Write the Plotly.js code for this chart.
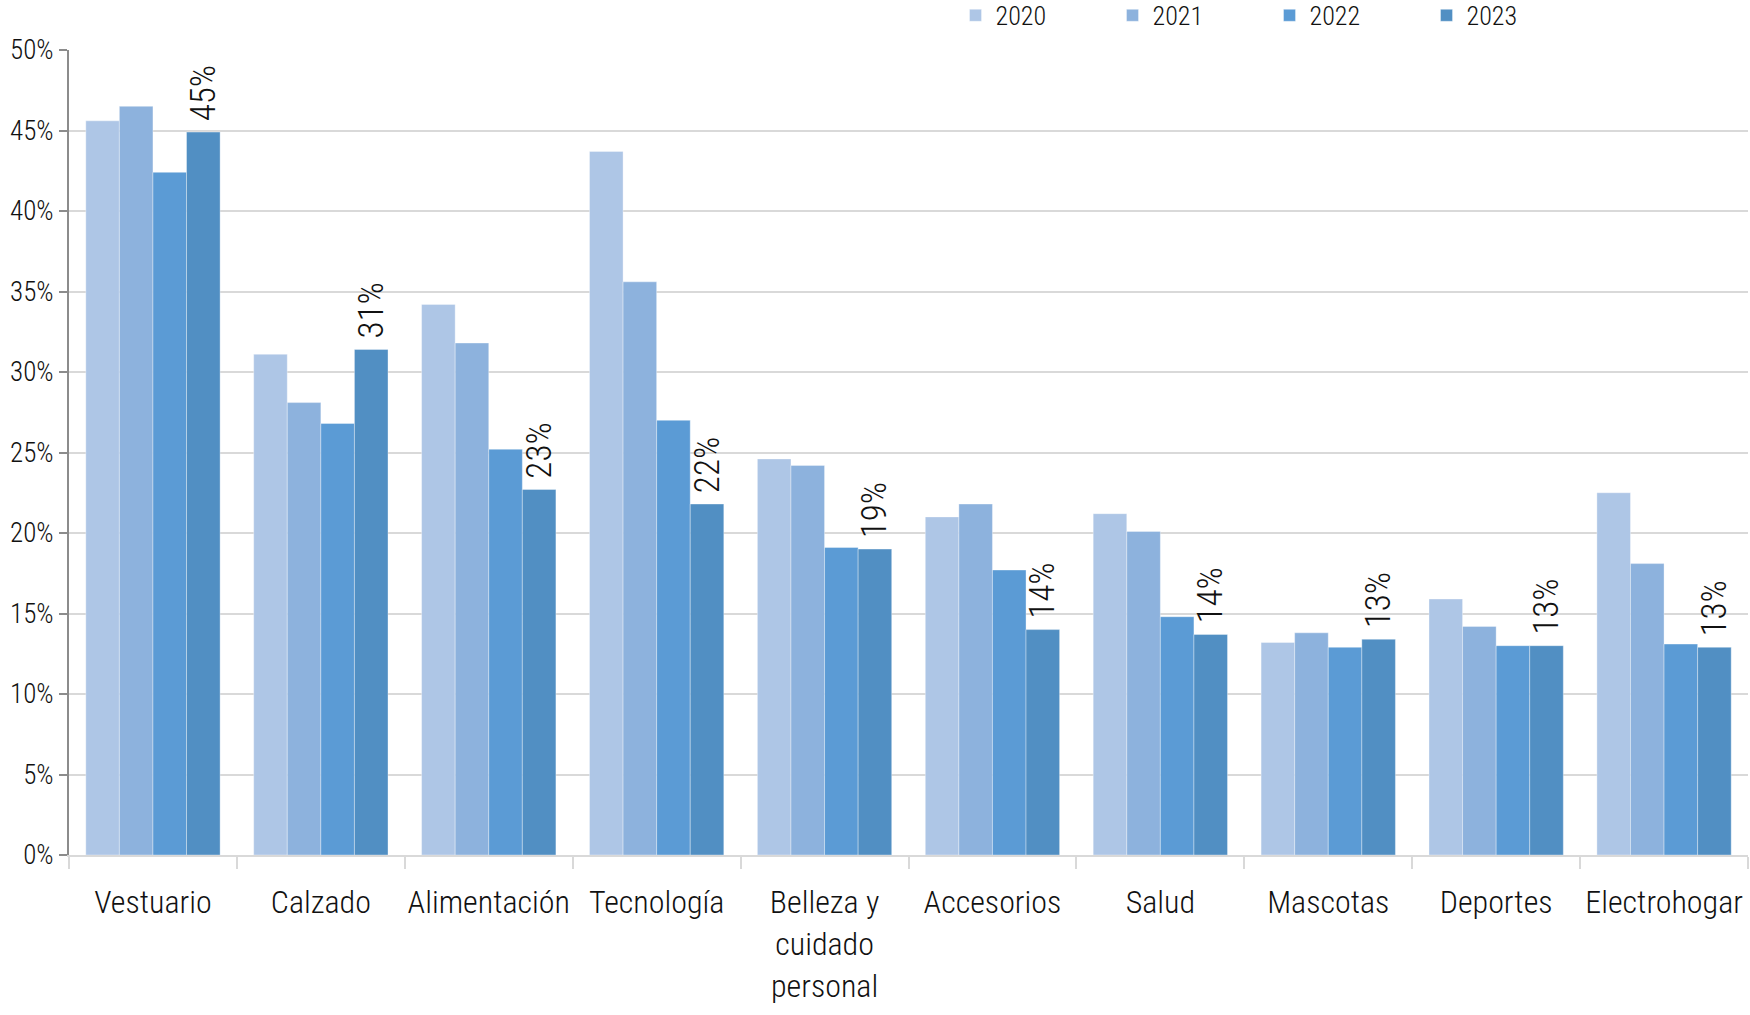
<!DOCTYPE html>
<html>
<head>
<meta charset="utf-8">
<script src="https://cdn.plot.ly/plotly-3.0.1.min.js"></script>
<style>html,body{margin:0;padding:0;background:#fff;}#chart{width:1750px;height:1015px;}</style>
</head>
<body>
<div id="chart"></div>
<script>
const categories = ["Vestuario","Calzado","Alimentación","Tecnología","Belleza y<br>cuidado<br>personal","Accesorios","Salud","Mascotas","Deportes","Electrohogar"];
const years = ["2020","2021","2022","2023"];
const v2020 = [45.6, 31.1, 34.2, 43.7, 24.6, 21.0, 21.2, 13.2, 15.9, 22.5];
const v2021 = [46.5, 28.1, 31.8, 35.6, 24.2, 21.8, 20.1, 13.8, 14.2, 18.1];
const v2022 = [42.4, 26.8, 25.2, 27.0, 19.1, 17.7, 14.8, 12.9, 13.0, 13.1];
const v2023 = [44.9, 31.4, 22.7, 21.8, 19.0, 14.0, 13.7, 13.4, 13.0, 12.9];
const colors = ["#aec6e6", "#8db2dd", "#5b9bd5", "#518fc3"];
const series = [v2020, v2021, v2022, v2023];
const FONT = "'Roboto Condensed', 'Liberation Sans Narrow', 'Roboto', sans-serif";

const traces = series.map((vals, i) => {
  const t = {
    type: 'bar',
    name: years[i],
    x: categories,
    y: vals,
    marker: {color: colors[i], line: {color: 'rgba(255,255,255,0.35)', width: 1}},
    hoverinfo: 'skip'
  };
  if (i === 3) {
    t.texttemplate = '\u00a0%{y:.0f}%';
    t.textposition = 'outside';
    t.textangle = -90;
    t.constraintext = 'none';
    t.cliponaxis = false;
    t.textfont = {family: FONT, size: 35, color: '#111', weight: 300};
  }
  return t;
});

const layout = {
  width: 1750, height: 1015,
  margin: {l: 69, r: 2, t: 50, b: 160, autoexpand: false},
  paper_bgcolor: '#fff', plot_bgcolor: '#fff',
  font: {family: FONT, color: '#111', weight: 300},
  barmode: 'group',
  bargap: 0.2,
  bargroupgap: 0,
  showlegend: true,
  legend: {
    orientation: 'h', x: 0.528, xanchor: 'left', y: 1.043, yanchor: 'middle',
    font: {family: FONT, size: 26, color: '#111', weight: 300},
    entrywidth: 112, traceorder: 'normal'
  },
  xaxis: {
    type: 'category',
    tickson: 'boundaries', ticks: 'outside', ticklen: 12, tickcolor: '#d9d9d9', tickwidth: 2,
    showline: true, linecolor: '#d9d9d9', linewidth: 2,
    tickfont: {family: FONT, size: 32, color: '#111', weight: 300},
    tickangle: 0,
    ticklabelstandoff: 18,
    showgrid: false, fixedrange: true
  },
  yaxis: {
    range: [0, 50], dtick: 5, ticksuffix: '%',
    showgrid: true, gridcolor: '#d9d9d9', gridwidth: 2,
    showline: true, linecolor: '#8c8c8c', linewidth: 2,
    ticks: 'outside', ticklen: 8, tickcolor: '#8c8c8c', tickwidth: 2,
    tickfont: {family: FONT, size: 27, color: '#111', weight: 300},
    zeroline: false, fixedrange: true
  }
};

Plotly.newPlot('chart', traces, layout, {displayModeBar: false, staticPlot: true});
</script>
</body>
</html>
